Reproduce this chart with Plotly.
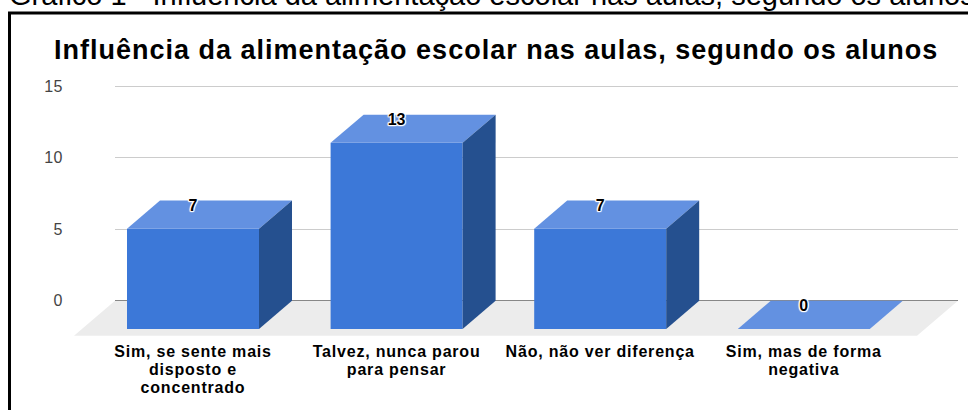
import plotly.graph_objects as go

# Data
categories = [
    "Sim, se sente mais<br>disposto e<br>concentrado",
    "Talvez, nunca parou<br>para pensar",
    "Não, não ver diferença",
    "Sim, mas de forma<br>negativa",
]
values = [7, 13, 7, 0]
y_ticks = [0, 5, 10, 15]
title_text = "Influência da alimentação escolar nas aulas, segundo os alunos"
caption_text = "Gráfico 1 - Influência da alimentação escolar nas aulas, segundo os alunos"

# Canvas and scale (pixels)
W, H = 968, 410
Y0_PX, PX_PER_UNIT = 300.8, 14.32
X0_PX, PX_PER_CAT = 193.0, 203.6
Y_MIN, Y_MAX = -2.8, 16.0

# 3D projection, in axis units
BAR_W = 132 / PX_PER_CAT
DX = 33 / PX_PER_CAT
DY = 1.97
FLOOR_DX = 41 / PX_PER_CAT
FLOOR_DY = 2.44

FRONT, TOP, SIDE = "#3c78d8", "#6391e1", "#25508f"
FLOOR, GRID, ZERO = "#ececec", "#cccccc", "#666666"

y_dom = [(H - (Y0_PX - Y_MIN * PX_PER_UNIT)) / H, (H - (Y0_PX - Y_MAX * PX_PER_UNIT)) / H]
x_range = [-X0_PX / PX_PER_CAT, (W - X0_PX) / PX_PER_CAT]
GRID_L, GRID_R = 115.0, 958.0


def spaced(text, size=None, spacing=1.0):
    """Wrap each line of a label in a span carrying letter spacing."""
    css = f"letter-spacing:{spacing}px"
    if size:
        css += f";font-size:{size}px"
    return "<br>".join(f'<span style="{css}">{line}</span>' for line in text.split("<br>"))


fig = go.Figure()

# Anchor trace for the back wall subplot (gridlines and value axis)
fig.add_trace(go.Scatter(x=[0], y=[0], mode="markers", marker=dict(opacity=0),
                         hoverinfo="skip", showlegend=False, xaxis="x", yaxis="y"))

positions = list(range(len(values)))

# Front faces
fig.add_trace(go.Bar(
    x=positions, y=values, base=-DY, width=BAR_W, marker=dict(color=FRONT, line=dict(width=0)),
    hoverinfo="skip", showlegend=False, xaxis="x2", yaxis="y2",
))

# Top and side faces from the same values
for i, v in zip(positions, values):
    l, r = i - BAR_W / 2, i + BAR_W / 2
    fy = v - DY
    fig.add_trace(go.Scatter(
        x=[l, r, r + DX, l + DX, l], y=[fy, fy, v, v, fy], mode="lines", fill="toself",
        fillcolor=TOP, line=dict(width=0), hoverinfo="skip", showlegend=False, xaxis="x2", yaxis="y2",
    ))
    if v > 0:
        fig.add_trace(go.Scatter(
            x=[r, r + DX, r + DX, r, r], y=[fy, v, 0, -DY, fy], mode="lines", fill="toself",
            fillcolor=SIDE, line=dict(width=0), hoverinfo="skip", showlegend=False, xaxis="x2", yaxis="y2",
        ))

# Data labels with a white halo
halo = "1px 0 1px #fff, -1px 0 1px #fff, 0 1px 1px #fff, 0 -1px 1px #fff, 1px 1px 1px #fff, -1px -1px 1px #fff, 1px -1px 1px #fff, -1px 1px 1px #fff"
fig.add_trace(go.Scatter(
    x=positions, y=[v - 0.42 for v in values], text=[str(v) for v in values], mode="text",
    textposition="middle center", cliponaxis=False,
    textfont=dict(family="Liberation Sans", size=16, color="#000000", weight="bold", shadow=halo),
    hoverinfo="skip", showlegend=False, xaxis="x2", yaxis="y2",
))


def px(x):
    return x / W


def py(y):
    return (H - y) / H


shapes = [
    # Floor of the 3D scene
    dict(type="path", xref="x2", yref="y2", layer="below", line=dict(width=0), fillcolor=FLOOR,
         path=(f"M {x_range[0] + GRID_L / PX_PER_CAT},0 "
               f"L {x_range[0] + GRID_R / PX_PER_CAT},0 "
               f"L {x_range[0] + GRID_R / PX_PER_CAT - FLOOR_DX},{-FLOOR_DY} "
               f"L {x_range[0] + GRID_L / PX_PER_CAT - FLOOR_DX},{-FLOOR_DY} Z")),
    # Frame around the chart image
    dict(type="line", xref="paper", yref="paper", x0=px(9.5), x1=px(9.5), y0=0, y1=py(13),
         line=dict(color="#000000", width=3)),
    dict(type="line", xref="paper", yref="paper", x0=px(8), x1=1, y0=py(13), y1=py(13),
         line=dict(color="#000000", width=3)),
]

fig.update_layout(
    width=W, height=H, autosize=False,
    margin=dict(l=0, r=0, t=0, b=0),
    paper_bgcolor="#ffffff", plot_bgcolor="rgba(0,0,0,0)",
    barmode="overlay", showlegend=False, shapes=shapes,
    font=dict(family="Liberation Sans", color="#000000"),
    xaxis=dict(domain=[px(GRID_L), px(GRID_R)], range=[0, 1], visible=False, anchor="y"),
    yaxis=dict(domain=y_dom, range=[Y_MIN, Y_MAX], tickmode="array", tickvals=y_ticks,
               ticktext=[spaced(str(t), spacing=0.5) for t in y_ticks], showgrid=True, gridcolor=GRID, gridwidth=1,
               zeroline=True, zerolinecolor=ZERO, zerolinewidth=1, showline=False, ticks="",
               ticklabelstandoff=51, tickfont=dict(family="Liberation Sans", size=16, color="#444444"),
               anchor="x"),
    xaxis2=dict(domain=[0, 1], range=x_range, anchor="y2", tickmode="array", tickvals=positions,
                ticktext=[spaced(c, size=16, spacing=0.8) for c in categories],
                showgrid=False, zeroline=False, showline=False, ticks="",
                ticklabelstandoff=2, tickangle=0,
                tickfont=dict(family="Liberation Sans", size=13.6, color="#000000", weight="bold")),
    yaxis2=dict(domain=y_dom, range=[Y_MIN, Y_MAX], visible=False, anchor="x2", showgrid=False, zeroline=False),
    annotations=[
        dict(text=spaced(title_text, spacing=1), xref="paper", yref="paper", x=px(496), y=py(50), xanchor="center",
             yanchor="middle", showarrow=False,
             font=dict(family="Liberation Sans", size=27, color="#000000", weight="bold")),
        dict(text=caption_text, xref="paper", yref="paper", x=px(7), y=py(13), xanchor="left",
             yanchor="bottom", showarrow=False, align="left",
             font=dict(family="Liberation Sans", size=29, color="#000000")),
    ],
)

fig.write_html("out.html", config=dict(displayModeBar=False),
               post_script="document.body.style.margin='0';document.body.style.overflow='hidden';")
